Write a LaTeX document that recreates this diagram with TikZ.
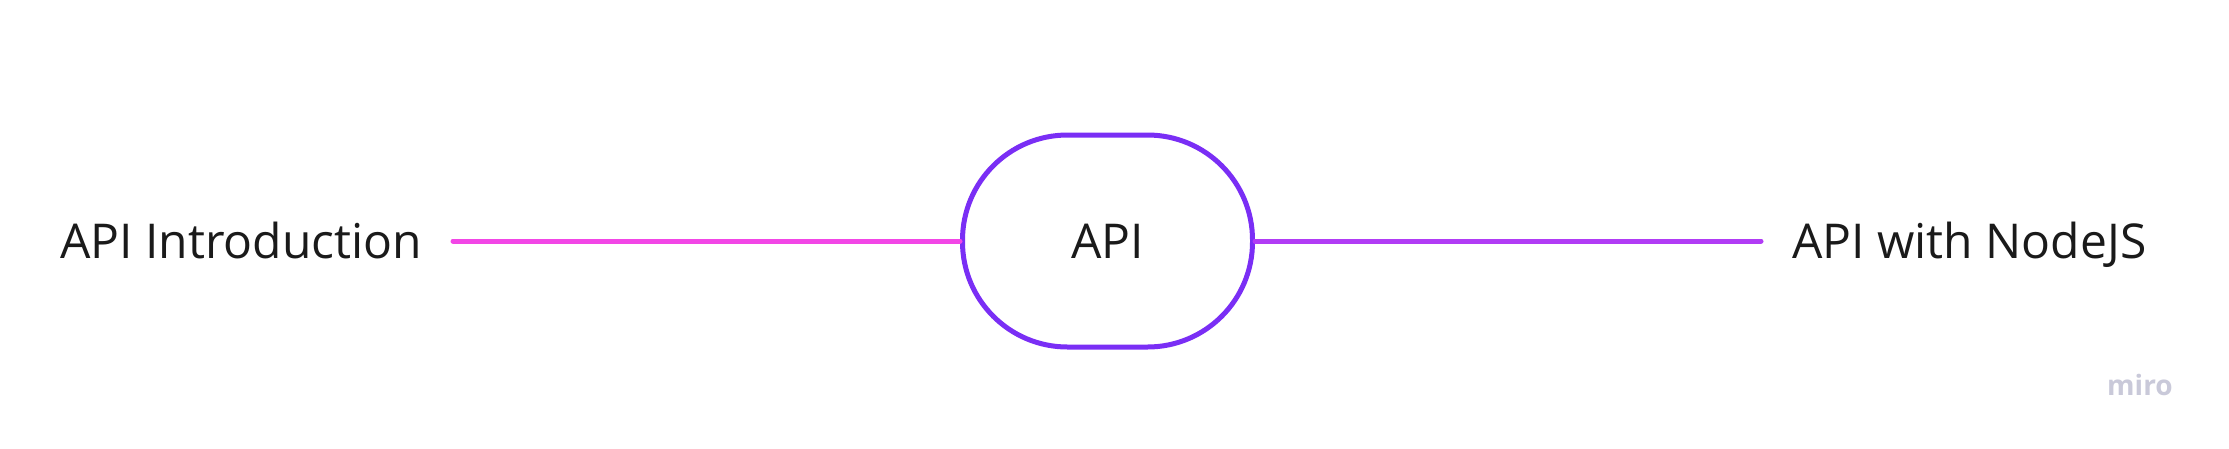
\documentclass[tikz,border=0pt]{standalone}
\usepackage{fontspec}
\setmainfont{Open Sans}
\definecolor{nodeborder}{HTML}{7A2EF5}
\definecolor{leftline}{HTML}{F246E6}
\definecolor{rightline}{HTML}{B13CF5}
\definecolor{textcol}{HTML}{1A1A1A}
\definecolor{logocol}{HTML}{C9C9D9}
\begin{document}
\begin{tikzpicture}[x=1pt,y=-1pt,
  label text/.style={font=\fontsize{48}{56}\selectfont, text=textcol, inner sep=0pt},
  stadium/.style={draw=nodeborder, line width=5pt, rounded corners=105pt, minimum width=290pt, minimum height=212pt, fill=white, font=\fontsize{48}{56}\selectfont, text=textcol},
  conn/.style={line width=5pt, line cap=round}]
\useasboundingbox[fill=white] (0,0) rectangle (2229,448);
\node[stadium] (api) at (1107.5,241) {API};
\node[label text, anchor=base west] (intro) at (60,258) {API Introduction};
\node[label text, anchor=base west] (node) at (1792,258) {API with NodeJS};
\coordinate (lend) at (453,241);
\coordinate (rend) at (1761,241);
\draw[conn, leftline] (lend) -- (api.west);
\draw[conn, rightline] (api.east) -- (rend);
\node[anchor=base west, inner sep=0pt, text=logocol, font=\fontsize{28}{34}\bfseries\selectfont] (logo) at (2107,395) {miro};
\end{tikzpicture}
\end{document}
